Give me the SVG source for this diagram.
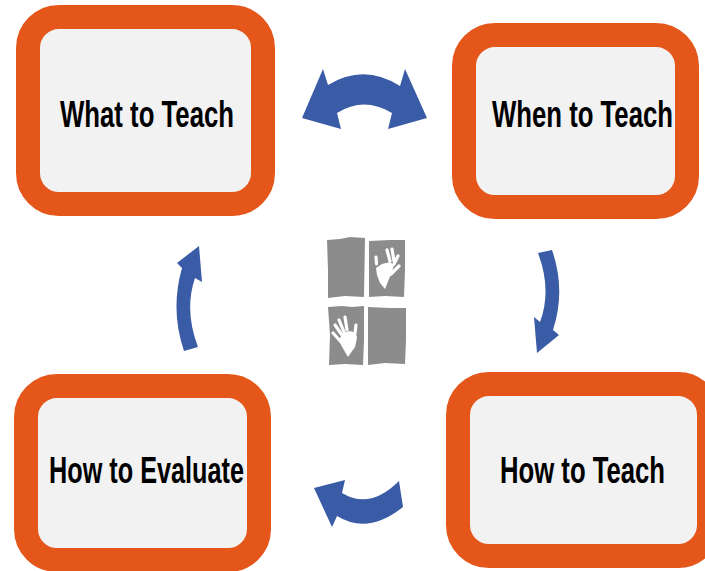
<svg xmlns="http://www.w3.org/2000/svg" width="705" height="571" viewBox="0 0 705 571">
<style>
.box{fill:#f2f2f2;stroke:#e5561a;stroke-width:24}
.lbl{font-family:"Liberation Sans",Arial,sans-serif;font-weight:700;font-size:25.5px;fill:#000}
.arrow{fill:#3a5ba5}
.tile{fill:#8c8c8c}
.hand{fill:#fff}
.finger{fill:none;stroke:#fff;stroke-width:3.2;stroke-linecap:round}
</style>
<rect width="705" height="571" fill="#fff"/>
<g id="node-what"><rect class="box" x="28" y="17" width="235" height="187" rx="31"/><text class="lbl" transform="translate(60 127) scale(1 1.45)" textLength="174" lengthAdjust="spacingAndGlyphs">What to Teach</text></g>
<g id="node-when"><rect class="box" x="464" y="35" width="223" height="172" rx="31"/><text class="lbl" transform="translate(492 127) scale(1 1.45)" textLength="181" lengthAdjust="spacingAndGlyphs">When to Teach</text></g>
<g id="node-how"><rect class="box" x="458" y="384" width="251" height="172" rx="31"/><text class="lbl" transform="translate(500 483) scale(1 1.45)" textLength="165" lengthAdjust="spacingAndGlyphs">How to Teach</text></g>
<g id="node-evaluate"><rect class="box" x="26" y="386" width="233" height="174" rx="31"/><text class="lbl" transform="translate(49 483) scale(1 1.45)" textLength="195" lengthAdjust="spacingAndGlyphs">How to Evaluate</text></g>
<g id="connectors">
<path class="arrow" d="M302 118L323 69L328 85Q364 63 400 86L405 69L427 118L388 129L392 113Q364 96 337 113L341 129Z"/>
<path class="arrow" d="M538 253L552 250Q566 290 553 330L559 335L537 353L534 317L540 322Q552 290 538 253Z"/>
<path class="arrow" d="M399 481L403 507Q368 535 337 516L332 527L314 488L345 480L342 493Q370 510 399 481Z"/>
<path class="arrow" d="M199 246L202 282L195 278Q184 310 198 347L184 351Q170 310 182 268L177 263Z"/>
</g>
<g id="logo">
<path class="tile" d="M327 240L340 239L350 237L365 238L364 297L345 296L328 298L328 270Z"/>
<path class="tile" d="M369 241L390 240L405 240L405 270L404 297L385 296L369 297Z"/>
<path class="tile" d="M328 307L342 306L352 307L364 306L364 340L363 365L345 364L329 365L330 335Z"/>
<path class="tile" d="M368 307L390 308L406 308L406 340L405 364L385 363L368 365Z"/>
<path class="hand" d="M376 268L382 264L390 262L394 265L392 272L389 279L385 289L380 283L377 275Z"/>
<path class="finger" d="M376 257L376.500 264M387 250L390 261M392 249L394 261M398 256L394 264M399 266L391 274"/>
<path class="hand" d="M343 333L350 331L356 333L357 338L355 347L348 357L341 345L340 338Z"/>
<path class="finger" d="M335 325L342 335M339 320L344 332M345 317L347 330M356 325L355 333M333 333L342 343"/>
</g>
</svg>
